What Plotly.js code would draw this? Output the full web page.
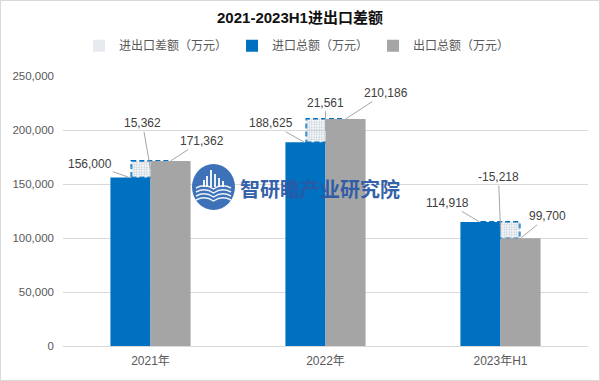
<!DOCTYPE html>
<html>
<head>
<meta charset="utf-8">
<script src="https://cdn.plot.ly/plotly-3.0.1.min.js"></script>
<style>
  html, body { margin: 0; padding: 0; background: #fff; }
  #chart { width: 598px; height: 379px; border: 1px solid #d9d9d9; }
</style>
</head>
<body>
<div id="chart"></div>
<script>
// ---- data ----
const categories = ['2021年', '2022年', '2023年H1'];
const importTotal = [156000, 188625, 114918];   // 进口总额（万元）
const exportTotal = [171362, 210186, 99700];    // 出口总额（万元）
const tradeDiff = [15362, 21561, -15218];       // 进出口差额（万元）
const seriesNames = ['进出口差额（万元）', '进口总额（万元）', '出口总额（万元）'];
const yTicks = [0, 50000, 100000, 150000, 200000, 250000];

// ---- presentation ----
const fontFam = 'Liberation Sans, Noto Sans CJK SC, sans-serif';
const blue = '#0070c0', gray = '#a5a5a5';
const barW = 0.229, diffW = 0.218;
const fmt = v => v.toLocaleString('en-US');

const diffBase = importTotal.map((v, i) => Math.min(v, exportTotal[i]));
const diffHeight = tradeDiff.map(v => Math.abs(v));

const traces = [
  {
    type: 'bar', name: seriesNames[0], x: categories, y: diffHeight, base: diffBase,
    width: diffW, offset: -diffW / 2,
    marker: { color: 'rgba(0,0,0,0)', line: { width: 0 },
      pattern: { shape: '.', fgcolor: '#c3cdd7', bgcolor: 'rgba(0,0,0,0)', size: 2.5, solidity: 0.45 } },
    hoverinfo: 'skip'
  },
  {
    type: 'bar', name: seriesNames[1], x: categories, y: importTotal,
    width: barW, offset: -barW, marker: { color: blue, line: { width: 0 } }
  },
  {
    type: 'bar', name: seriesNames[2], x: categories, y: exportTotal,
    width: barW, offset: 0, marker: { color: gray, line: { width: 0 } }
  }
];

// dashed outline of the difference boxes (from data)
const shapes = categories.map((c, i) => ({
  type: 'rect', xref: 'x', yref: 'y', layer: 'between',
  x0: i - diffW / 2, x1: i + diffW / 2,
  y0: diffBase[i], y1: diffBase[i] + diffHeight[i],
  line: { color: blue, width: 2, dash: '5px,3px' }, fillcolor: 'rgba(0,0,0,0)'
}));

// watermark logo (decoration, in paper units converted from pixel placement)
const PX = x => (x - 63) / 525, PY = y => (346 - y) / 270;
shapes.push({ type: 'circle', xref: 'paper', yref: 'paper', layer: 'above',
  x0: PX(192), x1: PX(235), y0: PY(210), y1: PY(164),
  fillcolor: '#2c66b3', line: { width: 0 }, opacity: 0.92 });
[[203, 180, 205, 187], [206, 176, 208, 187], [210, 170, 212, 187], [214, 174, 216, 187], [218, 178, 220, 187], [222, 181, 224, 187]]
  .forEach(b => shapes.push({ type: 'rect', xref: 'paper', yref: 'paper', layer: 'above',
    x0: PX(b[0]), x1: PX(b[2]), y0: PY(b[3]), y1: PY(b[1]), fillcolor: '#ffffff', line: { width: 0 }, opacity: 0.9 }));
[188, 192, 196, 200].forEach(yy => shapes.push({ type: 'path', xref: 'paper', yref: 'paper', layer: 'above',
  path: `M ${PX(196)},${PY(yy)} Q ${PX(205)},${PY(yy - 5)} ${PX(213.5)},${PY(yy + 1)} Q ${PX(222)},${PY(yy - 5)} ${PX(231)},${PY(yy)}`,
  line: { color: '#ffffff', width: 1.5 }, opacity: 0.9 }));

// label leader offsets (pixels)
const impOff = [[-40, -14], [-34, -19], [-32, -19]];
const diffOff = [[-8, -46], [0, -28], [-2, -53]];
const expOff = [[31, -20], [40, -26], [27, -22]];

const annotations = [];
const lab = (x, y, text, off) => ({
  x: x, y: y, xref: 'x', yref: 'y', text: text,
  showarrow: true, arrowhead: 0, arrowwidth: 1, arrowcolor: '#a6a6a6',
  ax: off[0], ay: off[1], standoff: 0,
  font: { family: fontFam, size: 12, color: '#404040' }
});
categories.forEach((c, i) => {
  annotations.push(lab(i - 0.12, importTotal[i], fmt(importTotal[i]), impOff[i]));
  annotations.push(lab(i, diffBase[i] + diffHeight[i] / 2, fmt(tradeDiff[i]), diffOff[i]));
  annotations.push(lab(i + barW / 2, exportTotal[i], fmt(exportTotal[i]), expOff[i]));
});
// watermark text
annotations.push({ xref: 'paper', yref: 'paper', x: 0.4895, y: 0.5815, showarrow: false,
  text: '智研瞻产业研究院', opacity: 0.95,
  font: { family: 'Noto Sans CJK SC, sans-serif', size: 20, color: '#2b5aa6', weight: 700 } });

const layout = {
  width: 598, height: 379,
  margin: { l: 62, r: 11, t: 75, b: 34 },
  paper_bgcolor: '#fff', plot_bgcolor: '#fff',
  font: { family: fontFam, color: '#595959' },
  title: { text: '<b>2021-2023H1进出口差额</b>', x: 0.5, xanchor: 'center',
    y: 0.955, yanchor: 'middle', font: { family: fontFam, size: 15, color: '#111' } },
  barmode: 'overlay',
  showlegend: true,
  legend: { orientation: 'h', xref: 'container', x: 0.495, xanchor: 'center',
    yref: 'container', y: 0.882, yanchor: 'middle',
    font: { family: fontFam, size: 12, color: '#595959' },
    traceorder: 'normal', itemwidth: 30, tracegroupgap: 0 },
  xaxis: { type: 'category', showgrid: false, showline: true, linecolor: '#d9d9d9', linewidth: 1,
    ticks: '', tickfont: { family: fontFam, size: 12, color: '#595959' }, ticklabelstandoff: 4,
    range: [-0.5, 2.5], fixedrange: true },
  yaxis: { range: [0, 250000], tickvals: yTicks, ticktext: yTicks.map(fmt),
    showgrid: true, gridcolor: '#d9d9d9', gridwidth: 1, zeroline: false, showline: false,
    ticks: '', tickfont: { family: fontFam, size: 11.5, color: '#595959' }, ticklabelstandoff: 8,
    fixedrange: true },
  shapes: shapes,
  annotations: annotations
};

Plotly.newPlot('chart', traces, layout, { displayModeBar: false, staticPlot: true });
</script>
</body>
</html>
